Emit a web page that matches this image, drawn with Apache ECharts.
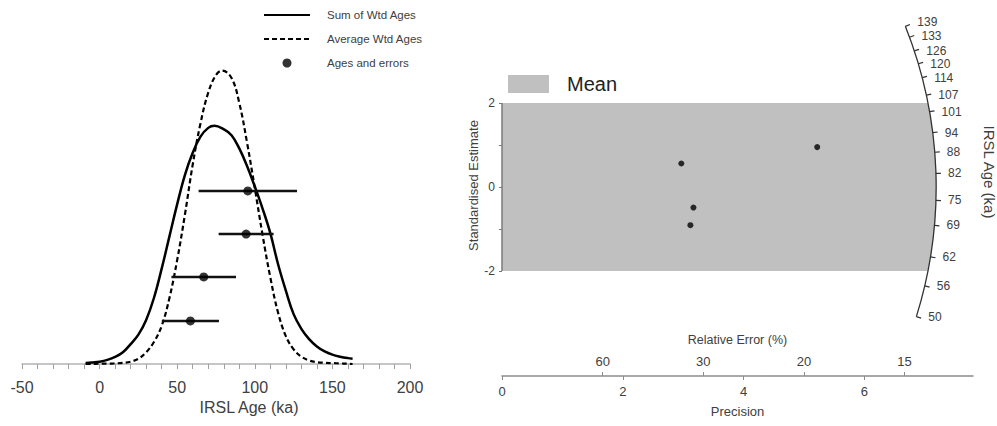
<!DOCTYPE html>
<html>
<head>
<meta charset="utf-8">
<script src="https://cdn.jsdelivr.net/npm/echarts@6/dist/echarts.min.js"></script>
<style>
  html, body { margin: 0; padding: 0; background: #fff; }
  #chart { width: 997px; height: 426px; }
</style>
</head>
<body>
<div id="chart"></div>
<script>
// left panel: curves (IRSL age in ka, relative height)
const sumX = [-9, -5, 0, 5, 10, 15, 20, 25, 30, 35, 40, 45, 50, 55, 60, 65, 70, 74, 80, 85, 90, 95, 100, 105, 110, 115, 120, 125, 130, 135, 140, 145, 150, 155, 160, 163];
const sumY = [0.003, 0.005, 0.008, 0.014, 0.024, 0.04, 0.068, 0.1, 0.15, 0.225, 0.325, 0.435, 0.545, 0.645, 0.72, 0.775, 0.805, 0.812, 0.8, 0.78, 0.735, 0.675, 0.605, 0.53, 0.446, 0.34, 0.25, 0.17, 0.12, 0.085, 0.06, 0.043, 0.032, 0.025, 0.02, 0.018];
const avgX = [-9, -5, 0, 5, 10, 15, 20, 25, 30, 35, 40, 45, 50, 55, 60, 65, 70, 75, 79, 85, 90, 95, 100, 105, 110, 115, 120, 125, 130, 135, 140, 145, 150, 155, 160, 163];
const avgY = [0, 0, 0.001, 0.001, 0.002, 0.004, 0.008, 0.018, 0.04, 0.075, 0.13, 0.225, 0.355, 0.51, 0.68, 0.82, 0.925, 0.985, 1.0, 0.975, 0.89, 0.755, 0.6, 0.44, 0.295, 0.175, 0.095, 0.05, 0.025, 0.012, 0.006, 0.004, 0.003, 0.002, 0.001, 0];

// ages and errors (ka), with the level they are plotted at
const ages = [95.5, 94.4, 67.1, 58.5];
const ageErrs = [31.7, 17.7, 20.8, 18.4];
const ageLevels = [0.59, 0.443, 0.297, 0.147];

// right panel: radial plot
const precision = [2.97, 5.22, 3.17, 3.12];
const stdEstimate = [0.56, 0.95, -0.49, -0.91];
const bandLimits = [-2, 2];
const centralAge = 78.4;
const arcRadius = 7.19; // in precision units
const radialTicks = [50, 56, 62, 69, 75, 82, 88, 94, 101, 107, 114, 120, 126, 133, 139];
const precisionTicks = [0, 2, 4, 6];
const relErrTicks = [60, 30, 20, 15];

const FONT = 'Liberation Sans';
const TXT = '#404040';

const myChart = echarts.init(document.getElementById('chart'), null, { renderer: 'svg' });

function units(api) {
  const o = api.coord([0, 0]);
  const ux = api.coord([1, 0])[0] - o[0];
  const uy = o[1] - api.coord([0, 1])[1];
  return { o, ux, uy };
}

const options = {
  animation: false,
  textStyle: { fontFamily: FONT },
  grid: [
    { left: 22, right: 587, top: 12, bottom: 62 },
    { left: 502, right: 24, top: 19, bottom: 50 }
  ],
  legend: [
    {
      data: [
        { name: 'Sum of Wtd Ages', itemStyle: { opacity: 0 } },
        { name: 'Average Wtd Ages', itemStyle: { opacity: 0 } },
        { name: 'Ages and errors', icon: 'circle' }
      ],
      orient: 'vertical',
      left: 258,
      top: 4,
      itemWidth: 46,
      itemHeight: 9,
      itemGap: 12,
      selectedMode: false,
      textStyle: { fontSize: 11.5, color: TXT, fontFamily: FONT, padding: [0, 0, 0, 12] }
    },
    {
      data: [{ name: 'Mean', icon: 'rect' }],
      left: 503,
      top: 69,
      itemWidth: 41,
      itemHeight: 18,
      selectedMode: false,
      textStyle: { fontSize: 20, color: '#222', fontFamily: FONT, padding: [0, 0, 0, 13] }
    }
  ],
  xAxis: [
    {
      gridIndex: 0,
      type: 'value',
      min: -50,
      max: 200,
      interval: 50,
      axisLine: { onZero: false, lineStyle: { color: '#b4b4b4', width: 1.5 } },
      axisTick: { length: 5, lineStyle: { color: '#a0a0a0' } },
      minorTick: { show: true, splitNumber: 5, length: 5, lineStyle: { color: '#a0a0a0' } },
      axisLabel: { fontSize: 16, margin: 15, color: TXT },
      splitLine: { show: false },
      name: 'IRSL Age (ka)',
      nameLocation: 'middle',
      nameGap: 32,
      nameTextStyle: { fontSize: 16, color: TXT, padding: [0, 0, 0, 66] }
    },
    {
      gridIndex: 1,
      type: 'value',
      position: 'bottom',
      min: 0,
      max: 7.8,
      axisLine: { onZero: false, lineStyle: { color: '#8c8c8c', width: 1.5 } },
      axisTick: { customValues: precisionTicks, length: 4, lineStyle: { color: '#8c8c8c' } },
      axisLabel: { customValues: precisionTicks, margin: 9, fontSize: 13, color: TXT },
      splitLine: { show: false },
      name: 'Precision',
      nameLocation: 'middle',
      nameGap: 29,
      nameTextStyle: { fontSize: 13, color: TXT }
    },
    {
      gridIndex: 1,
      type: 'value',
      position: 'bottom',
      offset: 0,
      min: 0,
      max: 7.8,
      axisLine: { show: false, onZero: false },
      axisTick: { inside: true, customValues: relErrTicks.map(r => 100 / r), length: 4, lineStyle: { color: '#8c8c8c' } },
      axisLabel: {
        inside: true,
        customValues: relErrTicks.map(r => 100 / r),
        margin: 8,
        fontSize: 13,
        color: TXT,
        formatter: v => String(Math.round(100 / v))
      },
      splitLine: { show: false },
      name: 'Relative Error (%)',
      nameLocation: 'middle',
      nameGap: -36,
      nameTextStyle: { fontSize: 12.5, color: TXT, verticalAlign: 'middle' }
    }
  ],
  yAxis: [
    { gridIndex: 0, type: 'value', min: 0, max: 1.2, show: false },
    {
      gridIndex: 1,
      type: 'value',
      min: -4.5,
      max: 4,
      axisLine: { show: false, onZero: false },
      axisTick: { show: true, customValues: [-2, -1, 0, 1, 2], length: 3, lineStyle: { color: '#777' } },
      axisLabel: { customValues: bandLimits.concat([0]), fontSize: 12, margin: 7, color: TXT },
      splitLine: { show: false },
      name: 'Standardised Estimate',
      nameLocation: 'middle',
      nameGap: 18,
      nameTextStyle: { fontSize: 13, color: TXT, padding: [0, 0, 0, 24] }
    }
  ],
  graphic: [
    {
      type: 'text',
      x: 989,
      y: 172,
      rotation: -Math.PI / 2,
      style: { text: 'IRSL Age (ka)', fontSize: 15, fontFamily: FONT, fill: TXT, align: 'center', verticalAlign: 'middle' }
    }
  ],
  series: [
    {
      name: 'Sum of Wtd Ages',
      type: 'line',
      xAxisIndex: 0,
      yAxisIndex: 0,
      smooth: 0.4,
      symbol: 'none',
      lineStyle: { color: '#000', width: 2.5 },
      itemStyle: { color: '#000' },
      data: sumX.map((x, i) => [x, sumY[i]]),
      z: 2
    },
    {
      name: 'Average Wtd Ages',
      type: 'line',
      xAxisIndex: 0,
      yAxisIndex: 0,
      smooth: 0.4,
      symbol: 'none',
      lineStyle: { color: '#000', width: 2.2, type: [5, 3] },
      itemStyle: { color: '#000' },
      data: avgX.map((x, i) => [x, avgY[i]]),
      z: 2
    },
    {
      name: 'error bars',
      type: 'custom',
      xAxisIndex: 0,
      yAxisIndex: 0,
      silent: true,
      data: ages.map((a, i) => [a, ageLevels[i], ageErrs[i]]),
      renderItem: (params, api) => {
        const lo = api.coord([api.value(0) - api.value(2), api.value(1)]);
        const hi = api.coord([api.value(0) + api.value(2), api.value(1)]);
        return {
          type: 'line',
          shape: { x1: lo[0], y1: lo[1], x2: hi[0], y2: hi[1] },
          style: { stroke: '#111', lineWidth: 2.5 }
        };
      },
      z: 3
    },
    {
      name: 'Ages and errors',
      type: 'scatter',
      xAxisIndex: 0,
      yAxisIndex: 0,
      symbolSize: 9,
      itemStyle: { color: '#000' },
      data: ages.map((a, i) => [a, ageLevels[i]]),
      z: 4
    },
    {
      name: 'Mean',
      type: 'custom',
      xAxisIndex: 1,
      yAxisIndex: 1,
      silent: true,
      itemStyle: { color: '#c0c0c0' },
      data: [[0, bandLimits[0], bandLimits[1]]],
      renderItem: (params, api) => {
        const { o, ux, uy } = units(api);
        const r = arcRadius * ux;
        const lo = api.value(1), hi = api.value(2);
        const aTop = Math.asin(hi * uy / r), aBot = Math.asin(lo * uy / r);
        const pts = [[o[0], o[1] - hi * uy]];
        for (let k = 0; k <= 40; k++) {
          const t = aTop + (aBot - aTop) * k / 40;
          pts.push([o[0] + r * Math.cos(t), o[1] - r * Math.sin(t)]);
        }
        pts.push([o[0], o[1] - lo * uy]);
        return {
          type: 'group',
          children: [
            { type: 'polygon', shape: { points: pts }, style: { fill: '#c0c0c0' } },
            { type: 'line', shape: { x1: o[0], y1: o[1] - hi * uy, x2: o[0], y2: o[1] - lo * uy }, style: { stroke: '#7a7a7a', lineWidth: 1.5 } }
          ]
        };
      },
      z: 1
    },
    {
      name: 'radial axis',
      type: 'custom',
      xAxisIndex: 1,
      yAxisIndex: 1,
      silent: true,
      data: [[0, 0]],
      renderItem: (params, api) => {
        const { o, ux, uy } = units(api);
        const r = arcRadius * ux;
        const ang = a => Math.atan(Math.log(a / centralAge) * uy / ux);
        const tTop = ang(radialTicks[radialTicks.length - 1]);
        const tBot = ang(radialTicks[0]);
        const children = [{
          type: 'arc',
          shape: { cx: o[0], cy: o[1], r: r, startAngle: -tTop, endAngle: -tBot, clockwise: true },
          style: { stroke: '#333', lineWidth: 1.3, fill: null }
        }];
        radialTicks.forEach(a => {
          const t = ang(a), c = Math.cos(t), s = Math.sin(t);
          const x = o[0] + r * c, y = o[1] - r * s;
          // the top labels crowd together; nudge them up a little
          const nudge = t > 0.37 ? 4 : t > 0.34 ? 1 : 0;
          children.push({ type: 'line', shape: { x1: x, y1: y, x2: x + 5 * c, y2: y - 5 * s }, style: { stroke: '#333', lineWidth: 1.2 } });
          children.push({
            type: 'text', x: x + 12, y: y - nudge,
            style: { text: String(a), fontSize: 12, lineHeight: 10, fontFamily: FONT, fill: TXT, align: 'left', verticalAlign: 'middle' }
          });
        });
        return { type: 'group', children };
      },
      z: 2
    },
    {
      name: 'estimates',
      type: 'scatter',
      xAxisIndex: 1,
      yAxisIndex: 1,
      symbolSize: 6,
      itemStyle: { color: '#000' },
      data: precision.map((p, i) => [p, stdEstimate[i]]),
      z: 4
    }
  ]
};

myChart.setOption(options);
</script>
</body>
</html>
